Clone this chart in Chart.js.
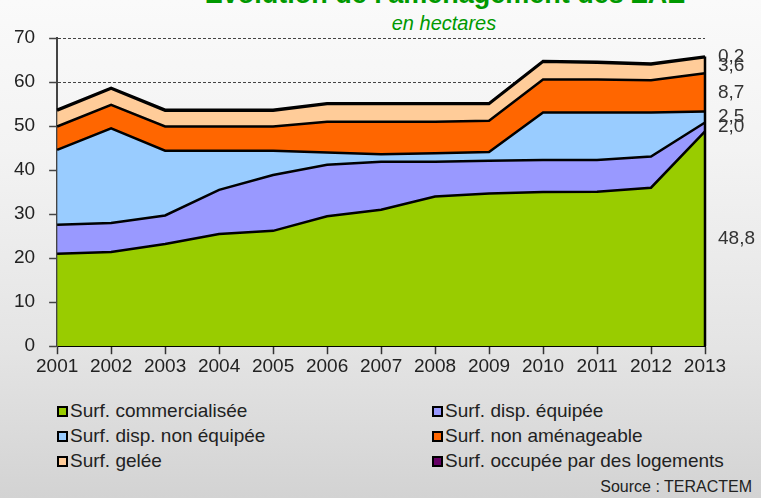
<!DOCTYPE html>
<html>
<head>
<meta charset="utf-8">
<script src="https://cdn.jsdelivr.net/npm/chart.js@4"></script>
<style>
  html, body { margin: 0; padding: 0; }
  body {
    width: 761px; height: 498px; position: relative; overflow: hidden;
    background: linear-gradient(#fafafa 0%, #f3f3f3 30%, #e4e4e4 70%, #d3d3d3 100%);
    font-family: "Liberation Sans", Arial, sans-serif;
  }
  #title {
    position: absolute; left: 0; width: 890px; top: -21px; text-align: center;
    font-weight: bold; font-size: 27px; line-height: 30px; color: #009900; white-space: nowrap;
  }
  #subtitle {
    position: absolute; left: 0; width: 888px; top: 12px; text-align: center;
    font-style: italic; font-size: 20px; color: #009900;
  }
  #wrap { position: absolute; left: 0; top: 0; width: 761px; height: 390px; }
  #legend {
    position: absolute; left: 57px; top: 400px;
    display: grid; grid-template-columns: 375px 320px; row-gap: 3px;
    font-size: 19px; color: #222;
  }
  .item { display: flex; align-items: center; height: 22px; white-space: nowrap; }
  .box { width: 7px; height: 7px; border: 2px solid #000; margin-right: 2px; }
  #source { position: absolute; right: 9px; top: 478px; font-size: 16px; color: #222; }
</style>
</head>
<body>
<div id="title">Evolution de l'aménagement des ZAE</div>
<div id="subtitle">en hectares</div>
<div id="wrap"><canvas id="zae"></canvas></div>
<div id="legend"></div>
<div id="source">Source : TERACTEM</div>
<script>
const years          = ['2001', '2002', '2003', '2004', '2005', '2006', '2007', '2008', '2009', '2010', '2011', '2012', '2013'];
const commercialisee = [21.0, 21.4, 23.2, 25.5, 26.2, 29.5, 31.0, 34.0, 34.7, 35.0, 35.1, 36.0, 48.8];
const dispEquipee    = [6.6, 6.6, 6.5, 10.0, 12.7, 11.7, 10.9, 7.9, 7.4, 7.3, 7.2, 7.1, 2.0];
const dispNonEquipee = [17.0, 21.5, 14.7, 8.9, 5.5, 2.8, 1.7, 1.9, 2.0, 10.8, 10.8, 10.0, 2.5];
const nonAmenageable = [5.3, 5.3, 5.5, 5.5, 5.5, 7.0, 7.4, 7.2, 7.1, 7.5, 7.5, 7.3, 8.7];
const gelee          = [3.6, 3.7, 3.6, 3.6, 3.6, 4.0, 4.0, 4.0, 3.8, 4.0, 3.8, 3.6, 3.6];
const logements      = [0.2, 0.2, 0.2, 0.2, 0.2, 0.2, 0.2, 0.2, 0.2, 0.2, 0.2, 0.2, 0.2];
const yTicks         = [0, 10, 20, 30, 40, 50, 60, 70];

const colors = {
    commercialisee : '#99cc00',
    dispEquipee    : '#9999ff',
    dispNonEquipee : '#99ccff',
    nonAmenageable : '#ff6600',
    gelee          : '#ffcc99',
    logements      : '#660066'
};

function area(label, data, color, fill) {
    return {
        label: label,
        data: data,
        backgroundColor: color,
        borderColor: '#000',
        borderWidth: 2.5,
        fill: fill,
        pointRadius: 0,
        tension: 0
    };
}

// values of the last year written at the right of each band + right edge
const sideLabels = {
    id: 'sideLabels',
    afterDatasetsDraw(chart) {
        const ctx = chart.ctx;
        const x = chart.scales.x, y = chart.scales.y;
        const last = years.length - 1;
        const px = x.getPixelForValue(last);
        const total = chart.data.datasets.reduce((s, d) => s + d.data[last], 0);
        ctx.save();
        ctx.strokeStyle = '#000';
        ctx.lineWidth = 2.5;
        ctx.beginPath();
        ctx.moveTo(px, y.getPixelForValue(0));
        ctx.lineTo(px, y.getPixelForValue(total));
        ctx.stroke();
        ctx.font = '19px "Liberation Sans", Arial, sans-serif';
        ctx.fillStyle = '#333';
        ctx.textBaseline = 'middle';
        let base = 0;
        chart.data.datasets.forEach(ds => {
            const v = ds.data[last];
            ctx.fillText(v.toFixed(1).replace('.', ','), px + 13, y.getPixelForValue(base + v / 2));
            base += v;
        });
        ctx.restore();
    }
};

const ctx = document.getElementById('zae').getContext('2d');
const chart = new Chart(ctx, {
    type: 'line',
    data: {
        labels: years,
        datasets: [
            area('Surf. commercialisée', commercialisee, colors.commercialisee, 'origin'),
            area('Surf. disp. équipée', dispEquipee, colors.dispEquipee, '-1'),
            area('Surf. disp. non équipée', dispNonEquipee, colors.dispNonEquipee, '-1'),
            area('Surf. non aménageable', nonAmenageable, colors.nonAmenageable, '-1'),
            area('Surf. gelée', gelee, colors.gelee, '-1'),
            area('Surf. occupée par des logements', logements, colors.logements, '-1')
        ]
    },
    options: {
        responsive: true,
        maintainAspectRatio: false,
        animation: false,
        layout: { padding: { top: 38, left: 0, right: 56, bottom: 11 } },
        plugins: {
            legend: { display: false },
            tooltip: { enabled: false }
        },
        scales: {
            x: {
                offset: false,
                grid: { drawOnChartArea: false, tickLength: 8, tickColor: '#333', tickWidth: 1.5 },
                border: { color: '#000', width: 2 },
                ticks: { color: '#222', padding: 1, maxRotation: 0, font: { size: 19, family: '"Liberation Sans", Arial' } }
            },
            y: {
                stacked: true,
                min: 0,
                max: 70,
                afterBuildTicks: axis => { axis.ticks = yTicks.map(v => ({ value: v })); },
                grid: { color: '#444', tickBorderDash: [], tickColor: '#444', tickLength: 8, tickWidth: 1.5 },
                border: { color: '#444', width: 2, dash: [3, 2] },
                ticks: { color: '#222', padding: 14, font: { size: 19, family: '"Liberation Sans", Arial' } }
            }
        }
    },
    plugins: [sideLabels]
});

// legend in two columns
const legend = document.getElementById('legend');
chart.data.datasets.forEach(ds => {
    const item = document.createElement('div');
    item.className = 'item';
    const box = document.createElement('span');
    box.className = 'box';
    box.style.background = ds.backgroundColor;
    item.appendChild(box);
    item.appendChild(document.createTextNode(ds.label));
    legend.appendChild(item);
});
</script>
</body>
</html>
